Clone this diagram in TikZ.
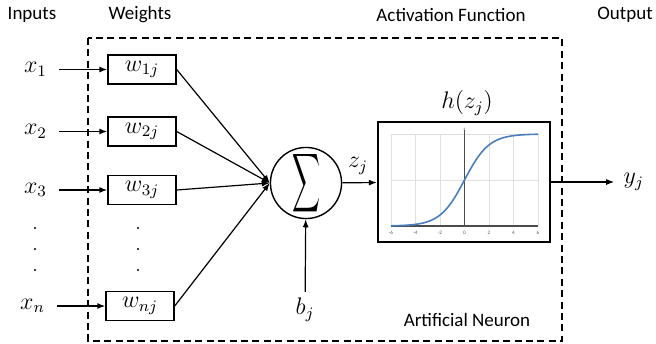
\documentclass[tikz,border=0pt]{standalone}
\usepackage[no-math]{fontspec}
\setmainfont{Carlito}
\usepackage{graphicx}
\usetikzlibrary{arrows.meta, positioning}
\definecolor{curveblue}{RGB}{74,126,187}

\begin{document}
\begin{tikzpicture}[
        x=0.5pt, y=-0.5pt,
        font=\fontsize{9.5}{11}\selectfont,
        titel/.style={inner sep=0pt},
        gewicht/.style={rectangle, draw, line width=0.7pt, minimum width=34pt, minimum height=14.5pt, inner sep=0pt, font=\large},
        eingang/.style={inner xsep=6pt, inner ysep=1pt, font=\large},
        summe/.style={circle, draw, line width=0.7pt, minimum size=34pt, inner sep=0pt},
        aktiv/.style={rectangle, draw, line width=1.2pt, minimum width=86pt, minimum height=60pt, inner sep=0pt},
        grenze/.style={draw, line width=0.8pt, dash pattern=on 3.5pt off 2.2pt},
        gitter/.style={gray!25, line width=0.5pt},
        achse/.style={gray!60!black, line width=0.6pt},
        conector/.style={-{Latex[length=4pt, width=3pt]}, line width=0.6pt},
        ticklbl/.style={font=\fontsize{2.6}{3}\selectfont, inner sep=0pt, text=gray!70!black}
    ]
    \useasboundingbox (0,0) rectangle (656,343);

    % NEURON FRAME
    \draw[grenze] (88,38) rectangle (562,341);

    % HEADINGS
    \node[titel] (hinputs) at (32,15) {Inputs};
    \node[titel] (hweights) at (140,15) {Weights};
    \node[titel] (hact) at (451,15) {Activation Function};
    \node[titel] (hout) at (625,15) {Output};

    % WEIGHTS AND INPUTS
    \node[gewicht] (w1) at (142,69.5) {$w_{1j}$};
    \node[gewicht] (w2) at (142,131.5) {$w_{2j}$};
    \node[gewicht] (w3) at (142,190) {$w_{3j}$};
    \node[gewicht] (wn) at (140,306) {$w_{nj}$};
    \node[eingang, left=24pt of w1] (x1) {$x_1$};
    \node[eingang, left=24pt of w2] (x2) {$x_2$};
    \node[eingang, left=24pt of w3] (x3) {$x_3$};
    \node[eingang, left=24pt of wn] (xn) {$x_n$};
    \foreach \y in {228,249,270} {
        \fill (35,\y) circle (0.6pt);
        \fill (138,\y) circle (0.6pt);
    }

    % SUM, BIAS, ACTIVATION
    \node[summe] (sum) at (306,183) {\resizebox{14pt}{21pt}{$\displaystyle\sum$}};
    \node[eingang, inner ysep=3pt] (bj) at (305,310) {$b_j$};
    \node[eingang, inner sep=0pt] (zj) at (358,166) {$z_j$};
    \node[aktiv] (act) at (464,182) {};
    \node[eingang, inner sep=0pt] (hz) at (467,103) {$h(z_j)$};
    \node[eingang, right=31.5pt of act, inner xsep=4.5pt] (yj) {$y_j$};
    \node[titel] (neuron) at (467,320) {Artificial Neuron};

    % SIGMOID PLOT
    \begin{scope}[shift={(464.5,226)}, x=6.125pt, y=46pt]
        \foreach \g in {-6,-4,...,6} \draw[gitter] (\g,0) -- (\g,1);
        \foreach \g in {0.5,1} \draw[gitter] (-6,\g) -- (6,\g);
        \draw[achse] (-6,0) -- (6,0);
        \draw[achse] (0,0) -- (0,1.04);
        \draw[curveblue, line width=0.8pt, domain=-6:6, samples=80, smooth] plot (\x, {1/(1+exp(-\x))});
        \foreach \t [count=\k] in {-6,-4,-2,0,2,4,6} \node[ticklbl] (tick\k) at (\t,-0.07) {\t};
        \node[ticklbl, above] (one) at (0,1.02) {1};
    \end{scope}

    % --- CONNECTORS ---
    \foreach \i in {1,2,3,n} \draw[conector] (x\i) -- (w\i);
    \foreach \i in {1,2,3,n} \draw[conector] (w\i.east) -- (sum.west);
    \draw[conector] (bj) -- (sum);
    \draw[conector] (sum) -- (act);
    \draw[conector] (act) -- (yj);

\end{tikzpicture}
\end{document}
